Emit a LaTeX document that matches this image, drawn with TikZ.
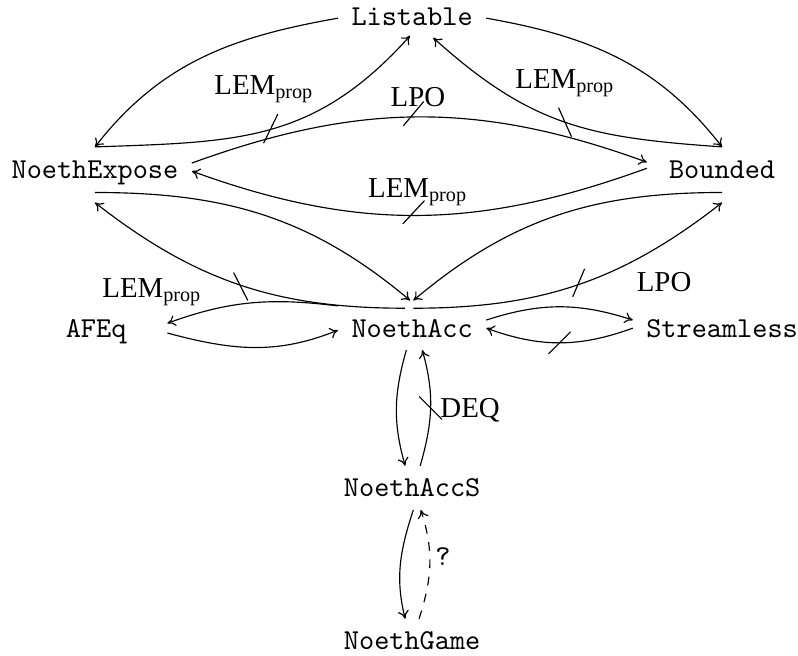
\documentclass[tikz,border=0pt]{standalone}
\usepackage{fontspec}
\setmainfont{Liberation Serif}
\usepackage{tikz}
\usetikzlibrary{positioning, arrows.meta}
\tikzstyle{obj} =[font=\ttfamily, text height=6.1pt, text depth=1.3pt, inner sep=4.5pt]
\tikzstyle{lbl} =[inner sep=0pt, anchor=base]
\tikzstyle{arr} =[-{Computer Modern Rightarrow[length=2.8pt, width=3.8pt]}]

\begin{document}
\begin{tikzpicture}[on grid]
\useasboundingbox (0,0) rectangle (276.5pt,-227pt);

\node (listable) [obj] at (142.8pt,-6.3pt) {Listable};
\node (expose) [obj, below left=53pt and 109.9pt of listable] {NoethExpose};
\node (bounded) [obj, inner xsep=7.5pt, right=217.3pt of expose] {Bounded};
\node (acc) [obj, below=108.1pt of listable] {NoethAcc};
\node (afeq) [obj, inner xsep=14pt, left=109.5pt of acc] {AFEq};
\node (streamless) [obj, right=107.4pt of acc] {Streamless};
\node (accS) [obj, below=55.4pt of acc] {NoethAccS};
\node (game) [obj, below=53pt of accS] {NoethGame};

% Listable and NoethExpose
\draw[arr] (listable.west) to[out=190, in=52] (expose.north);
\draw[arr] (expose.north) to[out=2, in=228, looseness=1.1] coordinate[pos=.5] (barA) ([shift={(-0.7pt,2.3pt)}]listable.south);
\draw (barA) ++(244:5.3pt) -- ++(64:11.2pt);
\node (lemA) [lbl] at (91.5pt,-32.7pt) {LEM\textsubscript{prop}};

% Listable and Bounded
\draw[arr] (listable.east) to[out=-10, in=128] (bounded.north);
\draw[arr] (bounded.north) to[out=176, in=-42, looseness=1.1] coordinate[pos=.5] (barB) ([shift={(7.3pt,1.6pt)}]listable.south);
\draw (barB) ++(294:5.5pt) -- ++(114:11pt);
\node (lemB) [lbl] at (195.8pt,-30.7pt) {LEM\textsubscript{prop}};

% NoethExpose and Bounded
\draw[arr] ([yshift=2.8pt]expose.east) to[out=20, in=160] coordinate[pos=.48] (barC) ([yshift=3.1pt]bounded.west);
\draw (barC) ++(230:4pt) -- ++(50:11pt);
\node (lpoA) [lbl] at (144.8pt,-36.9pt) {LPO};
\draw[arr] ([yshift=1pt]bounded.west) to[out=200, in=-20] coordinate[pos=.52] (barD) (expose.east);
\draw (barD) ++(227:4pt) -- ++(47:11pt);
\node (lemC) [lbl] at (144.8pt,-68.4pt) {LEM\textsubscript{prop}};

% NoethExpose and NoethAcc
\draw[arr] ([yshift=1pt]expose.south) to[out=0, in=140] ([shift={(-0.7pt,1.9pt)}]acc.north);
\draw[arr] ([shift={(-2.4pt,-0.8pt)}]acc.north) to[out=180, in=-38] coordinate[pos=.5] (barE) ([yshift=-2.5pt]expose.south);
\draw (barE) ++(297:6pt) -- ++(117:10.8pt);
\node (lemD) [lbl] at (52.7pt,-103.1pt) {LEM\textsubscript{prop}};

% Bounded and NoethAcc
\draw[arr] ([yshift=1pt]bounded.south) to[out=180, in=40] ([shift={(0.4pt,1.9pt)}]acc.north);
\draw[arr] ([shift={(0.4pt,-0.8pt)}]acc.north) to[out=0, in=218] coordinate[pos=.5] (barF) ([yshift=-2.5pt]bounded.south);
\draw (barF) ++(247:4.5pt) -- ++(67:10.5pt);
\node (lpoB) [lbl] at (230.1pt,-101pt) {LPO};

% AFEq and NoethAcc
\draw[arr] (acc.north west) to[out=173, in=20] ([yshift=2.4pt]afeq.east);
\draw[arr] ([yshift=-1pt]afeq.east) to[out=-15, in=202] (acc.west);

% NoethAcc and Streamless
\draw[arr] ([yshift=3.5pt]acc.east) to[out=18, in=162] ([yshift=3.5pt]streamless.west);
\draw[arr] ([yshift=0.7pt]streamless.west) to[out=200, in=-20] coordinate[pos=.5] (barG) ([yshift=0.7pt]acc.east);
\draw (barG) ++(225:5.4pt) -- ++(45:10.8pt);

% down the middle
\draw[arr] ([shift={(-2pt,1.5pt)}]acc.south) to[out=254, in=106] ([xshift=-2.4pt]accS.north);
\draw[arr] ([xshift=2.8pt]accS.north) to[out=74, in=-74] coordinate[pos=.5] (barH) ([shift={(3.5pt,1.5pt)}]acc.south);
\draw (barH) ++(315:5.6pt) -- ++(135:11.2pt);
\node (deq) [lbl] at (162.9pt,-144.5pt) {DEQ};
\draw[arr] ([shift={(0.4pt,1.5pt)}]accS.south) to[out=252, in=104] ([xshift=-2.4pt]game.north);
\draw[arr, dashed] ([xshift=2.4pt]game.north) to[out=72, in=-72] ([shift={(3pt,1.5pt)}]accS.south);
\node (what) [lbl, font=\ttfamily] at (153.5pt,-196.1pt) {?};

\end{tikzpicture}
\end{document}
